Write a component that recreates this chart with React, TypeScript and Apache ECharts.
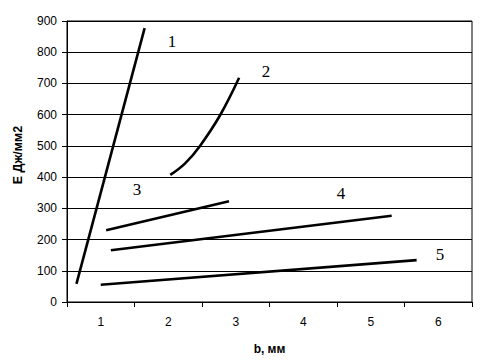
import React, { useEffect, useRef } from "react";
import * as echarts from "echarts";

const line1: [number, number][] = [[0.64, 58], [1.65, 877]];
const line2: [number, number][] = [[2.03, 407], [2.25, 444], [2.47, 500], [2.77, 599], [3.05, 718]];
const line3: [number, number][] = [[1.08, 230], [2.9, 323]];
const line4: [number, number][] = [[1.15, 166], [5.31, 276]];
const line5: [number, number][] = [[1.0, 55], [5.68, 134]];
const seriesData = [line1, line2, line3, line4, line5];
const curveNames = ["1", "2", "3", "4", "5"];
const xTickValues = [0.5, 1.5, 2.5, 3.5, 4.5, 5.5, 6.5];
const xLabelValues = [1, 2, 3, 4, 5, 6];
const labelPos: [number, number][] = [[172, 41], [266, 71], [137, 189], [341, 193], [440, 254]];
const yAxisTitle = "Е Дж/мм2";
const xAxisTitle = "b, мм";

export default function App() {
  const ref = useRef<HTMLDivElement>(null);
  useEffect(() => {
    document.body.style.margin = "0";
    const chart = echarts.init(ref.current!, undefined, { renderer: "svg" });
    chart.setOption({
      animation: false,
      backgroundColor: "#fff",
      grid: {
        left: 67, right: 14, top: 21, bottom: 58,
        show: true, borderColor: "#000", borderWidth: 1,
        containLabel: false, outerBoundsMode: "none",
      },
      xAxis: {
        type: "value",
        min: 0.5,
        max: 6.5,
        interval: 0.5,
        name: xAxisTitle,
        nameLocation: "middle",
        nameGap: 41,
        nameTextStyle: { fontFamily: "Liberation Sans, Arial", fontWeight: "bold", fontSize: 12, color: "#000" },
        axisLine: { lineStyle: { color: "#000", width: 1 } },
        axisTick: { show: true, length: 5, lineStyle: { color: "#000" }, customValues: xTickValues },
        axisLabel: { customValues: xLabelValues, margin: 14, fontFamily: "Liberation Sans, Arial", fontSize: 12, color: "#000" },
        splitLine: { show: false },
      },
      yAxis: {
        type: "value",
        min: 0,
        max: 900,
        interval: 100,
        axisLine: { show: true, lineStyle: { color: "#000", width: 1 } },
        axisTick: { show: true, length: 5, lineStyle: { color: "#000" } },
        axisLabel: { margin: 10, fontFamily: "Liberation Sans, Arial", fontSize: 12, color: "#000" },
        splitLine: { show: true, lineStyle: { color: "#000", width: 1 } },
      },
      series: seriesData.map((d, i) => ({
        type: "line",
        name: curveNames[i],
        data: d,
        smooth: d.length > 2 ? 0.4 : false,
        showSymbol: false,
        lineStyle: { color: "#000", width: 2.6 },
      })),
      graphic: [
        ...curveNames.map((n, i) => ({
          type: "text",
          x: labelPos[i][0],
          y: labelPos[i][1],
          style: {
            text: n,
            fontFamily: "Liberation Serif, Times New Roman, serif",
            fontSize: 17,
            fill: "#000",
            align: "center",
            verticalAlign: "middle",
          },
        })),
        {
          type: "text",
          x: 18,
          y: 155,
          rotation: Math.PI / 2,
          style: {
            text: yAxisTitle,
            fontFamily: "Liberation Sans, Arial",
            fontWeight: "bold",
            fontSize: 12.5,
            fill: "#000",
            align: "center",
            verticalAlign: "middle",
          },
        },
      ],
    });
    return () => chart.dispose();
  }, []);
  return <div ref={ref} style={{ width: 486, height: 360 }} />;
}
